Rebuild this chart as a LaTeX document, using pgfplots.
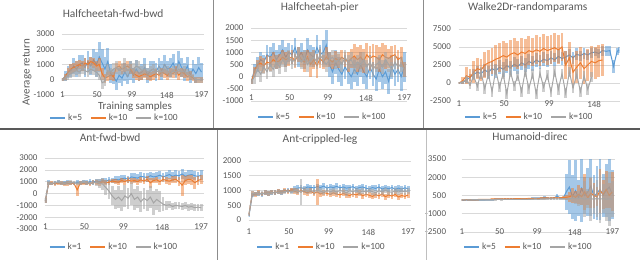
\documentclass[border=0pt]{standalone}
\usepackage{fontspec}
\setmainfont{Carlito}
\usepackage{pgfplots}
\usepackage{pgfplotstable}
\pgfplotsset{compat=1.18}
\definecolor{cb}{HTML}{5B9BD5}
\definecolor{co}{HTML}{ED7D31}
\definecolor{cg}{HTML}{A5A5A5}
\definecolor{txt}{HTML}{595959}

% x  b  be  o  oe  g  ge
\pgfplotstableread{
x b be o oe g ge
1 0 100 0 100 0 100
5 250 300 200 200 100 200
9 500 400 500 300 300 300
13 600 400 700 300 400 300
17 900 500 800 300 500 300
21 700 500 900 300 600 300
25 1000 600 1000 300 500 300
29 1100 500 900 300 700 300
33 800 600 1100 300 600 300
37 1200 700 1000 300 500 300
41 900 600 1200 300 700 300
45 1300 700 1100 300 600 300
49 1000 800 900 300 500 300
53 1500 1000 1000 400 300 300
57 1100 900 400 400 -200 400
61 700 800 100 300 -100 300
65 1200 900 200 300 600 400
69 400 600 300 300 500 300
73 200 500 200 300 700 400
77 -100 600 800 300 800 400
81 300 500 900 300 600 300
85 100 500 700 300 700 400
89 500 600 800 300 900 500
93 200 500 900 300 600 400
97 600 600 700 300 800 400
101 300 500 400 300 700 400
105 700 600 300 300 900 400
109 400 500 200 300 800 400
113 500 500 300 300 600 300
117 800 600 400 300 700 300
121 300 500 300 300 500 300
125 600 600 200 300 600 300
129 700 500 300 300 700 300
133 500 600 400 300 500 300
137 900 500 300 300 600 300
141 600 600 500 300 500 300
145 1000 600 400 300 700 300
149 700 500 300 300 600 300
153 800 600 500 300 400 300
157 1100 600 400 300 600 300
161 600 500 600 300 500 300
165 1200 700 300 300 700 300
169 800 600 500 300 500 300
173 500 600 400 300 600 300
177 900 600 200 300 400 300
181 300 500 300 300 300 300
185 700 600 100 200 200 200
189 400 600 0 200 0 200
193 800 700 0 200 0 200
197 500 600 0 200 0 200
}\tA

\pgfplotstableread{
x b be o oe g ge
1 -200 100 -200 100 -200 100
5 300 200 200 200 0 300
9 500 300 500 200 300 300
13 700 300 550 300 100 300
17 600 300 450 300 400 300
21 900 400 600 300 200 300
25 800 400 550 300 500 300
29 1000 400 700 300 300 300
33 700 400 600 300 600 300
37 900 400 650 300 400 300
41 1100 400 800 300 700 300
45 800 400 700 300 500 300
49 1000 400 750 300 800 300
53 900 400 800 300 600 300
57 1200 400 650 300 700 300
61 800 400 900 300 900 300
65 1000 400 700 300 600 300
69 700 400 600 400 800 300
73 1100 500 800 300 500 300
77 900 400 500 500 700 300
81 800 400 700 400 800 300
85 1200 500 450 500 600 300
89 900 400 750 400 900 300
93 1000 500 600 300 700 300
97 1300 600 800 400 500 300
101 500 500 700 300 700 300
105 200 500 600 300 800 300
109 600 500 750 300 600 300
113 300 500 650 300 700 300
117 100 500 800 300 500 300
121 400 500 700 300 800 300
125 200 500 600 400 600 300
129 0 500 750 400 700 300
133 300 500 850 500 400 300
137 100 500 700 500 600 300
141 500 500 800 500 500 300
145 200 500 650 500 700 300
149 0 500 900 500 400 300
153 400 500 750 500 600 300
157 100 500 850 500 300 300
161 -100 500 800 500 500 300
165 300 500 700 500 600 300
169 0 500 900 500 400 300
173 200 500 800 500 700 300
177 -200 500 750 400 500 300
181 400 500 850 400 300 300
185 100 500 900 400 600 300
189 300 500 700 400 400 300
193 0 600 800 400 500 300
197 400 600 300 300 300 300
}\tB

\pgfplotstableread{
x b be o oe g ge
1 0 100 0 100 0 100
5 100 200 300 500 100 200
9 400 400 1000 1200 500 500
13 800 500 800 1200 -300 500
17 1200 700 1500 1500 1000 600
21 1500 800 2000 1500 -500 600
25 1300 800 1800 1500 1500 700
29 1800 900 2500 1800 -800 700
33 1500 900 2800 1800 1200 700
37 2000 1000 3000 1800 -1200 700
41 1700 1000 3300 2000 1800 700
45 2200 1000 3500 2000 -600 700
49 1900 1000 3800 2000 1300 700
53 2400 1000 3600 2000 -1500 700
57 2100 1000 4000 2000 1500 700
61 2600 1000 4200 2000 -400 700
65 2300 1000 3900 2000 1000 700
69 2800 1000 4300 2000 -1200 700
73 2500 1000 4100 2000 1600 700
77 3000 1000 4500 2000 -800 700
81 2700 1000 4300 2000 1200 700
85 3200 1000 4600 2000 -1500 700
89 2900 1000 4400 2000 1400 700
93 3300 1000 4800 2000 -600 700
97 3100 900 4500 2000 1100 700
101 3500 900 4700 2000 -1300 700
105 3200 900 4900 2000 1600 700
109 3700 900 4600 2000 -900 700
113 3400 900 5000 2000 1300 700
117 3600 900 2500 2000 -1400 700
121 3900 800 3500 2200 1500 700
125 3500 800 1500 2200 -700 700
129 4000 800 2200 2200 1200 700
133 3800 700 2800 2200 -1200 700
137 4100 700 2000 2200 1000 700
141 3900 700 2500 2200 -900 700
145 4200 700 3000 2200 800 700
149 4300 600 2800 2200 nan nan
153 4100 600 3100 2200 nan nan
157 4500 700 3200 2200 nan nan
161 4400 700 nan nan nan nan
165 4500 700 nan nan nan nan
169 2300 900 nan nan nan nan
173 4400 500 nan nan nan nan
175 4600 400 nan nan nan nan
}\tC

\pgfplotstableread{
x b be o oe g ge
1 -600 200 -600 200 -600 200
5 900 200 850 150 900 150
9 850 150 900 150 850 150
13 900 150 800 150 900 150
17 950 150 850 150 950 150
21 850 150 900 150 900 150
25 900 150 800 150 850 150
29 950 150 850 200 900 150
33 900 150 900 150 950 150
37 850 150 850 150 900 150
41 950 150 300 500 850 150
45 900 150 900 150 900 150
49 950 150 850 150 950 150
53 900 200 900 150 900 150
57 1000 200 800 150 850 150
61 950 200 950 150 900 200
65 1050 200 900 200 950 300
69 1000 200 850 200 850 400
73 1100 200 1000 200 800 500
77 1050 250 900 200 500 600
81 1150 250 950 200 200 700
85 1100 250 1050 200 -200 800
89 1200 300 1000 200 -500 800
93 1150 300 950 200 -300 900
97 1250 300 1100 250 -600 900
101 1300 300 1000 250 -200 900
105 1200 300 1150 250 -400 900
109 1400 300 1050 250 0 1000
113 1350 350 1100 250 -500 900
117 1300 350 1000 250 -300 900
121 1450 350 1150 250 -700 900
125 1400 350 1050 250 -400 900
129 1350 350 1200 250 -600 900
133 1500 350 900 400 -300 900
137 1400 350 1100 250 -800 1000
141 1450 350 1150 250 -500 900
145 1550 350 1000 250 -700 900
149 1400 350 1200 250 -900 600
153 1500 350 1100 300 -1000 400
157 1600 400 1050 300 -950 300
161 1450 400 1150 300 -1100 300
165 1550 400 1200 300 -1000 300
169 1500 400 1000 400 -1050 300
173 1650 400 700 900 -1100 300
177 1450 400 1100 400 -1000 300
181 1550 400 1200 400 -1150 300
185 1600 400 1150 400 -1100 300
189 1500 400 900 500 -1200 300
193 1450 400 1100 400 -1150 300
197 1550 400 1200 400 -1200 300
}\tD

\pgfplotstableread{
x b be o oe g ge
1 150 50 200 50 200 50
5 850 80 900 80 900 80
9 880 80 870 80 880 80
13 900 80 920 80 910 80
17 870 80 880 80 890 80
21 920 80 930 80 920 80
25 900 80 900 80 900 80
29 940 80 950 80 930 80
33 920 80 920 80 920 80
37 960 80 970 80 950 80
41 940 80 950 80 940 80
45 980 80 1000 80 960 80
49 1000 80 960 80 980 80
53 990 80 1020 80 950 80
57 1050 100 980 100 1000 100
61 1080 100 940 100 980 100
65 1100 100 1000 100 950 450
69 1060 100 960 100 1020 100
73 1120 100 920 100 970 100
77 1100 100 980 100 1000 100
81 1090 100 900 100 960 100
85 1130 100 950 450 1010 100
89 1100 100 880 100 980 100
93 1150 100 930 100 940 100
97 1080 100 900 100 1000 100
101 1120 100 870 100 960 100
105 1100 100 920 100 990 100
109 1140 100 880 100 950 100
113 1090 100 850 100 1000 100
117 1120 100 900 100 970 100
121 1080 100 860 100 930 100
125 1100 100 830 100 990 100
129 1130 100 880 100 960 100
133 1060 100 850 100 1000 100
137 1100 100 900 100 940 100
141 1120 100 820 100 980 100
145 1080 100 870 100 950 100
149 1050 100 840 100 1000 100
153 1100 100 800 100 960 100
157 1070 100 860 100 930 100
161 1120 100 820 100 990 100
165 1050 100 880 100 950 100
169 1090 100 790 100 1000 100
173 1060 100 850 100 960 100
177 1100 100 810 100 940 100
181 1040 100 870 100 990 100
185 1080 100 780 100 950 100
189 1050 100 830 100 980 100
193 1090 100 800 100 960 100
197 1060 100 850 100 990 100
}\tE

\pgfplotstableread{
x b be o oe g ge
1 100 80 150 60 150 50
5 110 80 150 60 140 50
9 120 80 160 60 150 50
13 130 80 160 60 150 50
17 120 80 170 60 160 50
21 140 80 170 60 150 50
25 150 80 180 60 160 50
29 140 80 180 60 160 50
33 160 80 190 60 170 50
37 170 80 190 60 160 50
41 160 80 200 60 170 50
45 180 80 200 60 170 50
49 190 80 210 60 180 50
53 180 80 210 60 170 50
57 200 80 220 60 180 50
61 210 80 220 60 180 50
65 200 80 230 60 190 50
69 220 80 230 60 180 50
73 230 80 240 60 190 50
77 220 80 240 60 190 50
81 240 80 250 60 200 50
85 250 80 250 60 190 50
89 240 80 260 60 200 50
93 260 80 260 60 200 50
97 270 80 270 60 210 50
101 260 80 270 60 200 50
105 280 80 280 60 210 50
109 350 150 280 60 210 50
113 280 80 290 60 220 50
117 290 80 290 60 210 50
121 300 80 300 60 220 50
125 450 200 300 60 220 50
129 310 80 310 60 230 50
133 300 100 320 100 220 50
137 800 1500 350 200 230 50
141 1200 2200 400 400 230 50
145 400 1800 500 600 240 300
149 900 2500 350 500 230 400
153 300 1500 600 800 250 600
157 1100 2800 400 700 240 500
161 500 1500 800 1500 200 1500
165 800 2000 300 600 250 800
169 1300 2500 700 1200 230 1800
173 400 1800 500 1000 200 1200
177 700 2200 400 800 250 1500
181 1000 2500 900 1800 200 2000
185 500 1800 600 1200 250 1200
189 900 2200 1000 1500 200 1800
193 1200 2800 500 1000 230 2200
197 600 2000 800 1600 200 1500
}\tF

\pgfplotsset{
  panel/.style={
    scale only axis, anchor=south west,
    xmin=0.5, xmax=200.5,
    xtick={1,50,99,148,197}, xticklabels={1,50,99,148,197},
    axis line style={draw=none},
    major tick length=0pt,
    ymajorgrids, grid style={draw=black!15, line width=0.6pt},
    scaled y ticks=false,
    tick label style={font=\fontsize{9}{10}\selectfont, text=txt},
    xticklabel style={anchor=center},
    yticklabel style={xshift=-4bp},
    title style={font=\fontsize{11.5}{13}\selectfont, text=txt, anchor=center},
    legend style={draw=none, fill=none, anchor=center,
      font=\fontsize{9.5}{11}\selectfont, text=txt,
      legend columns=3, inner sep=0pt,
      /tikz/every even column/.append style={column sep=6bp}},
    legend image code/.code={\draw[#1, line width=1.8pt] (0bp,0bp) -- (15bp,0bp);},
    unbounded coords=jump,
  },
  sb/.style={cb, line width=1pt, error bars/.cd, y dir=both, y explicit,
    error mark=none, error bar style={cb, opacity=0.55, line width=2.8bp}},
  so/.style={co, line width=1pt, error bars/.cd, y dir=both, y explicit,
    error mark=none, error bar style={co, opacity=0.5, line width=2.8bp}},
  sg/.style={cg, line width=1pt, error bars/.cd, y dir=both, y explicit,
    error mark=none, error bar style={cg, opacity=0.55, line width=2.8bp}},
}

\begin{document}
\begin{tikzpicture}
\useasboundingbox (0,0) rectangle (640bp,260bp);

% panel 1
\begin{axis}[panel, at={(62bp,165bp)}, width=142bp, height=61bp,
  ymin=-1000, ymax=3000, ytick={-1000,0,1000,2000,3000},
  yticklabels={-1000,0,1000,2000,3000},
  title={Halfcheetah-fwd-bwd}, title style={at={(0.36,1.23)}},
  legend style={at={(0.37,-0.377)}}]
\addplot[sb] table[x=x,y=b,y error=be] {\tA};
\addplot[so] table[x=x,y=o,y error=oe] {\tA};
\addplot[sg] table[x=x,y=g,y error=ge] {\tA};
\legend{k=5,k=10,k=100}
\end{axis}

% panel 2
\begin{axis}[panel, at={(251bp,159bp)}, width=156bp, height=73bp,
  ymin=-1000, ymax=2000, ytick={-1000,-500,0,500,1000,1500,2000},
  yticklabels={-1000,-500,0,500,1000,1500,2000},
  xticklabel style={yshift=3bp},
  title={Halfcheetah-pier}, title style={at={(0.44,1.205)}},
  legend style={at={(0.458,-0.219)}}]
\addplot[sb] table[x=x,y=b,y error=be] {\tB};
\addplot[so] table[x=x,y=o,y error=oe] {\tB};
\addplot[sg] table[x=x,y=g,y error=ge] {\tB};
\legend{k=5,k=10,k=100}
\end{axis}

% panel 3
\begin{axis}[panel, at={(458.5bp,159bp)}, width=161bp, height=72bp,
  xmin=0.5, xmax=175.5, xtick={1,50,99,148}, xticklabels={1,50,99,148},
  ymin=-2500, ymax=7500, ytick={-2500,0,2500,5000,7500},
  yticklabels={-2500,0,2500,5000,7500},
  xticklabel style={yshift=-3bp},
  title={Walke2Dr-randomparams}, title style={at={(0.43,1.22)}},
  legend style={at={(0.44,-0.222)}}]
\addplot[sb] table[x=x,y=b,y error=be] {\tC};
\addplot[so] table[x=x,y=o,y error=oe] {\tC};
\addplot[sg] table[x=x,y=g,y error=ge] {\tC};
\legend{k=5,k=10,k=100}
\end{axis}

% panel 4
\begin{axis}[panel, at={(45bp,31bp)}, width=159bp, height=71bp,
  ymin=-3000, ymax=3000, ytick={-3000,-2000,-1000,0,1000,2000,3000},
  yticklabels={-3000,-2000,-1000,0,1000,2000,3000},
  xticklabel style={yshift=2bp},
  title={Ant-fwd-bwd}, title style={at={(0.41,1.21)}},
  legend style={at={(0.434,-0.254)}}]
\addplot[sb] table[x=x,y=b,y error=be] {\tD};
\addplot[so] table[x=x,y=o,y error=oe] {\tD};
\addplot[sg] table[x=x,y=g,y error=ge] {\tD};
\legend{k=1,k=10,k=100}
\end{axis}

% panel 5
\begin{axis}[panel, at={(248.6bp,40bp)}, width=162.4bp, height=59bp,
  ymin=0, ymax=2000, ytick={0,500,1000,1500,2000},
  yticklabels={0,500,1000,1500,2000},
  xticklabel style={yshift=-12bp},
  title={Ant-crippled-leg}, title style={at={(0.44,1.27)}},
  legend style={at={(0.45,-0.458)}}]
\addplot[sb] table[x=x,y=b,y error=be] {\tE};
\addplot[so] table[x=x,y=o,y error=oe] {\tE};
\addplot[sg] table[x=x,y=g,y error=ge] {\tE};
\legend{k=1,k=10,k=100}
\end{axis}

% panel 6
\begin{axis}[panel, at={(461.6bp,28bp)}, width=153.4bp, height=73bp,
  ymin=-2500, ymax=3500, ytick={-2500,-1000,500,2000,3500},
  yticklabels={-2500,-1000,500,2000,3500},
  yticklabel style={xshift=-8bp},
  title={Humanoid-direc}, title style={at={(0.446,1.22)}},
  legend style={at={(0.436,-0.205)}}]
\addplot[sb] table[x=x,y=b,y error=be] {\tF};
\addplot[so] table[x=x,y=o,y error=oe] {\tF};
\addplot[sg] table[x=x,y=g,y error=ge] {\tF};
\legend{k=5,k=10,k=100}
\end{axis}

% labels of first panel
\node[rotate=90, font=\fontsize{11}{13}\selectfont, text=txt] at (27bp,188bp) {Average return};
\node[font=\fontsize{11}{13}\selectfont, text=txt] at (135bp,153bp) {Training samples};

% separators
\draw[black!65, line width=2.4bp] (0bp,131bp) -- (640bp,131bp);
\draw[black!45, line width=0.8bp] (213bp,132bp) -- (213bp,260bp);
\draw[black!45, line width=0.8bp] (423bp,132bp) -- (423bp,260bp);
\draw[black!45, line width=0.8bp] (217bp,0bp) -- (217bp,130bp);
\draw[black!25, line width=0.8bp] (426bp,0bp) -- (426bp,130bp);
\end{tikzpicture}
\end{document}
